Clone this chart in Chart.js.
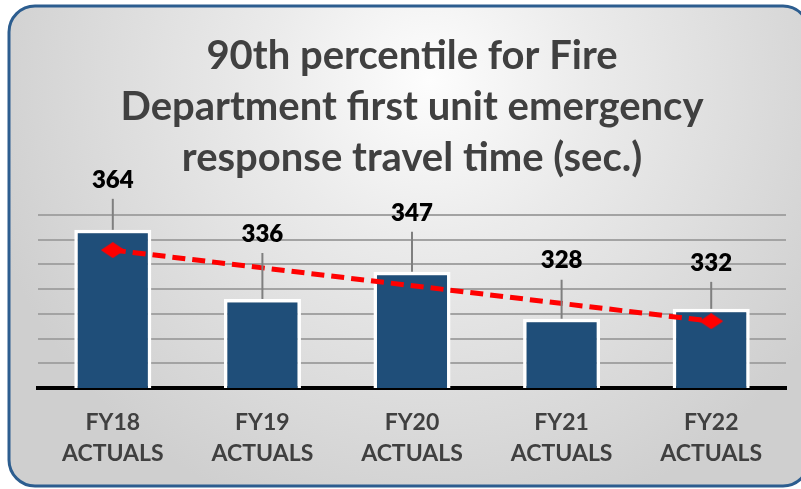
<!DOCTYPE html>
<html>
<head>
<meta charset="utf-8">
<script src="https://cdn.jsdelivr.net/npm/chart.js@4"></script>
<style>
  html, body { margin: 0; padding: 0; background: #ffffff; }
  #wrap { width: 801px; height: 489px; position: relative; }
</style>
</head>
<body>
<div id="wrap"><canvas id="fireChart"></canvas></div>
<script>
// values
const years = ['FY18', 'FY19', 'FY20', 'FY21', 'FY22'];
const yearSuffix = 'ACTUALS';
const travelTimes = [364, 336, 347, 328, 332];
// linear trendline, only its two end points (diamond markers)
const trendValues = [355.8, null, null, null, 327.0];
const yMin = 300;
const yMax = 370;
const yStep = 10;

const titleLines = [
    '90th percentile for Fire',
    'Department first unit emergency',
    'response travel time (sec.)'
];

// flattened diamond marker for the trendline ends
function makeDiamond(w, h, color) {
    const c = document.createElement('canvas');
    c.width = w; c.height = h;
    const g = c.getContext('2d');
    g.fillStyle = color;
    g.beginPath();
    g.moveTo(w / 2, 0);
    g.lineTo(w, h / 2);
    g.lineTo(w / 2, h);
    g.lineTo(0, h / 2);
    g.closePath();
    g.fill();
    return c;
}
const diamond = makeDiamond(24, 16, '#ff0000');

function roundRect(ctx, x, y, w, h, r) {
    ctx.beginPath();
    ctx.moveTo(x + r, y);
    ctx.lineTo(x + w - r, y);
    ctx.arcTo(x + w, y, x + w, y + r, r);
    ctx.lineTo(x + w, y + h - r);
    ctx.arcTo(x + w, y + h, x + w - r, y + h, r);
    ctx.lineTo(x + r, y + h);
    ctx.arcTo(x, y + h, x, y + h - r, r);
    ctx.lineTo(x, y + r);
    ctx.arcTo(x, y, x + r, y, r);
    ctx.closePath();
}

const panelBackground = {
    id: 'panelBackground',
    beforeDraw(chart) {
        const ctx = chart.ctx;
        ctx.save();
        roundRect(ctx, 9, 6, 800, 480, 26);
        const grad = ctx.createRadialGradient(430, 80, 0, 430, 80, 460);
        grad.addColorStop(0, '#fdfdfd');
        grad.addColorStop(0.35, '#ebebeb');
        grad.addColorStop(1, '#cfcfcf');
        ctx.fillStyle = grad;
        ctx.fill();
        ctx.lineWidth = 3;
        ctx.strokeStyle = '#2c5d8f';
        ctx.stroke();
        ctx.restore();
    }
};

// value labels above the bars with a grey leader line
const leaderLabels = {
    id: 'leaderLabels',
    afterDatasetsDraw(chart, args, opts) {
        const ctx = chart.ctx;
        const meta = chart.getDatasetMeta(opts.datasetIndex);
        const values = chart.data.datasets[opts.datasetIndex].data;
        ctx.save();
        meta.data.forEach(function (bar, i) {
            const top = bar.y;
            const labelY = top - opts.offsets[i];
            ctx.strokeStyle = '#7f7f7f';
            ctx.lineWidth = 2;
            ctx.beginPath();
            ctx.moveTo(bar.x, labelY + 19);
            ctx.lineTo(bar.x, top);
            ctx.stroke();
            ctx.fillStyle = '#000000';
            ctx.font = '800 24px Lato';
            ctx.textAlign = 'center';
            ctx.textBaseline = 'middle';
            ctx.fillText(String(values[i]), bar.x, labelY);
        });
        ctx.restore();
    }
};

const ctx = document.getElementById('fireChart');

new Chart(ctx, {
    data: {
        labels: years.map(function (y) { return [y, yearSuffix]; }),
        datasets: [{
            type: 'line',
            data: trendValues,
            spanGaps: true,
            borderColor: '#ff0000',
            borderWidth: 5,
            borderDash: [13, 7],
            pointStyle: diamond,
            pointRadius: 8,
            order: 0
        }, {
            type: 'bar',
            data: travelTimes,
            backgroundColor: '#1f4e79',
            borderColor: '#ffffff',
            borderWidth: 3.5,
            barPercentage: 0.515,
            categoryPercentage: 1,
            order: 1
        }]
    },
    options: {
        responsive: true,
        maintainAspectRatio: false,
        animation: false,
        layout: { padding: { left: 38, right: 15, top: 0, bottom: 1 } },
        plugins: {
            legend: { display: false },
            tooltip: { enabled: false },
            title: {
                display: true,
                text: titleLines,
                color: '#404040',
                font: { family: 'Lato', size: 40, weight: 'bold', lineHeight: '51px' },
                padding: { top: 31, bottom: 31 }
            },
            leaderLabels: { datasetIndex: 1, offsets: [50, 65, 59, 58, 46] }
        },
        scales: {
            x: {
                grid: { display: false, drawTicks: false },
                border: { display: true, color: '#000000', width: 4 },
                ticks: {
                    color: '#404040',
                    padding: 19,
                    font: { family: 'Lato', size: 23, weight: 'bold', lineHeight: 1.35 }
                }
            },
            y: {
                min: yMin,
                max: yMax,
                ticks: { display: false, stepSize: yStep },
                border: { display: false },
                grid: { color: '#a3a3a3', lineWidth: 2, drawTicks: false }
            }
        }
    },
    plugins: [panelBackground, leaderLabels]
});
</script>
</body>
</html>
